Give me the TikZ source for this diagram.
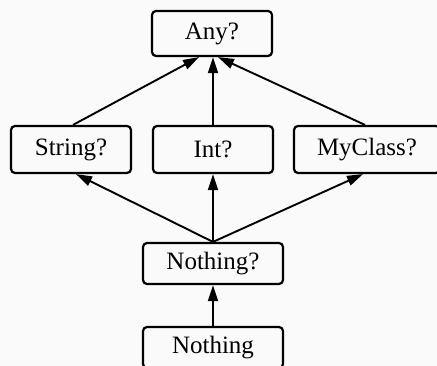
\documentclass[tikz,border=0pt]{standalone}
\usepackage{fontspec}
\setmainfont{Liberation Serif}
\usetikzlibrary{arrows.meta,calc}
\begin{document}
\begin{tikzpicture}[x=1pt,y=-1pt,
  box/.style={draw, line width=2.2pt, rounded corners=4pt, inner sep=0pt,
    font=\fontsize{25}{28}\selectfont},
  arr/.style={line width=1.9pt, -{Triangle[length=16pt,width=10pt]}}]
\fill[black!2] (0,0) rectangle (437,366);
\useasboundingbox (0,0) rectangle (437,366);
\node[box, minimum width=120pt, minimum height=45pt] (any) at (212,33.5) {Any?};
\node[box, minimum width=120pt, minimum height=47pt] (str) at (71,149.5) {String?};
\node[box, minimum width=120pt, minimum height=47pt] (int) at (213,149.5) {Int?};
\node[box, minimum width=146pt, minimum height=47pt] (my) at (367,149.5) {MyClass?};
\node[box, minimum width=140pt, minimum height=41pt] (nq) at (213,263.5) {Nothing?};
\node[box, minimum width=140pt, minimum height=41pt] (no) at (213,347.5) {Nothing};
\draw[arr] ($(str.north)+(2,0)$) -- ($(any.south)+(-13,0)$);
\draw[arr] (int.north) -- (int.north |- any.south);
\draw[arr] ($(my.north)+(-2,0)$) -- ($(any.south)+(6,0)$);
\draw[arr] (nq.north) -- ($(str.south)+(5,0)$);
\draw[arr] (nq.north) -- (int.south);
\draw[arr] (nq.north) -- ($(my.south)+(-4,0)$);
\draw[arr] (no.north) -- (nq.south);
\end{tikzpicture}
\end{document}
